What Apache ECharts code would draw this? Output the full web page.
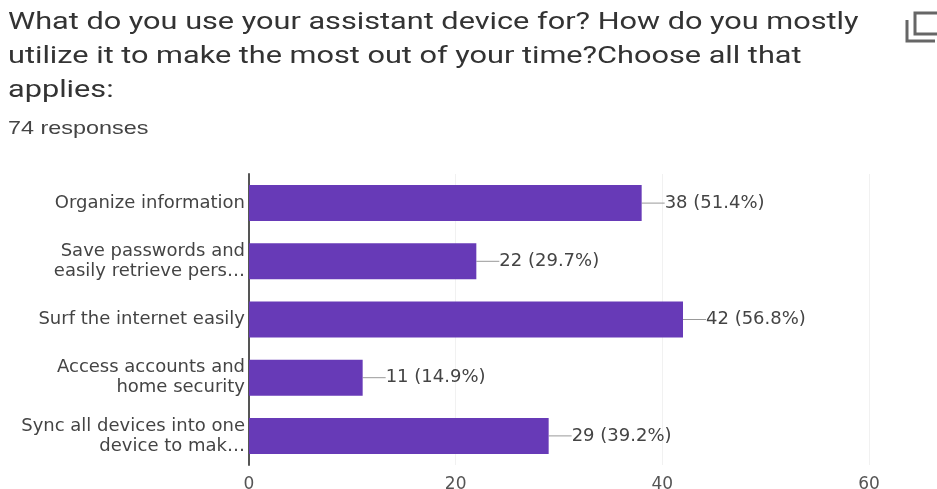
<!DOCTYPE html>
<html>
<head>
<meta charset="utf-8">
<style>html,body{margin:0;padding:0;background:#fff}#chart{width:937px;height:489px}</style>
<script src="https://cdn.jsdelivr.net/npm/echarts@6/dist/echarts.min.js"></script>
</head>
<body>
<div id="chart"></div>
<script>
const questionLines = [
  'What do you use your assistant device for? How do you mostly',
  'utilize it to make the most out of your time?Choose all that',
  'applies:'
];
const responseNote = '74 responses';
const categories = [
  'Organize information',
  'Save passwords and\neasily retrieve pers\u2026',
  'Surf the internet easily',
  'Access accounts and\nhome security',
  'Sync all devices into one\ndevice to mak\u2026'
];
const counts = [38, 22, 42, 11, 29];
const percents = ['51.4%', '29.7%', '56.8%', '14.9%', '39.2%'];
const axisTicks = { min: 0, max: 60, interval: 20 };

const chart = echarts.init(document.getElementById('chart'), null, { renderer: 'canvas' });
const textFont = '"DejaVu Sans", sans-serif';

// Header text is widened with scaleX so the line lengths fill the page width
const headerText = (text, y, font, size, color, scaleX) => ({
  type: 'text',
  x: 8, y,
  scaleX,
  style: { text, fontFamily: font, fontSize: size, fill: color, textVerticalAlign: 'middle' }
});

chart.setOption({
  animation: false,
  backgroundColor: '#ffffff',
  grid: { left: 249, right: 68, top: 174, bottom: 24, outerBoundsMode: 'none' },
  xAxis: {
    type: 'value',
    min: axisTicks.min, max: axisTicks.max, interval: axisTicks.interval,
    axisLine: { show: false },
    axisTick: { show: false },
    axisLabel: { fontFamily: textFont, fontSize: 17, color: '#555555', margin: 11 },
    splitLine: { show: true, lineStyle: { color: '#f1f1f1', width: 1 } }
  },
  yAxis: {
    type: 'category',
    inverse: true,
    data: categories,
    axisLine: { show: true, lineStyle: { color: '#555555', width: 2 } },
    axisTick: { show: false },
    axisLabel: { fontFamily: textFont, fontSize: 18, color: '#444444', margin: 4, lineHeight: 20, align: 'right' },
    splitLine: { show: false }
  },
  series: [{
    type: 'bar',
    data: counts,
    barWidth: 36,
    itemStyle: { color: '#673ab7' },
    label: {
      show: true,
      position: 'right',
      distance: 0,
      fontFamily: textFont,
      fontSize: 18,
      color: '#444444',
      formatter: p => `${counts[p.dataIndex]} (${percents[p.dataIndex]})`
    },
    labelLayout: { dx: 23 },
    labelLine: { show: true, lineStyle: { color: '#999999', width: 1 } }
  }],
  graphic: [
    headerText(questionLines[0], 23, 'Roboto', 24, '#333333', 1.278),
    headerText(questionLines[1], 57, 'Roboto', 24, '#333333', 1.278),
    headerText(questionLines[2], 91, 'Roboto', 24, '#333333', 1.278),
    headerText(responseNote, 129, '"Liberation Sans"', 19, '#444444', 1.23),
    {
      type: 'polyline',
      shape: { points: [[907, 20], [907, 41], [935, 41]] },
      style: { stroke: '#666666', lineWidth: 3, fill: null }
    },
    {
      type: 'polyline',
      shape: { points: [[937, 13], [915, 13], [915, 34], [937, 34]] },
      style: { stroke: '#666666', lineWidth: 3, fill: null }
    }
  ]
});
</script>
</body>
</html>
